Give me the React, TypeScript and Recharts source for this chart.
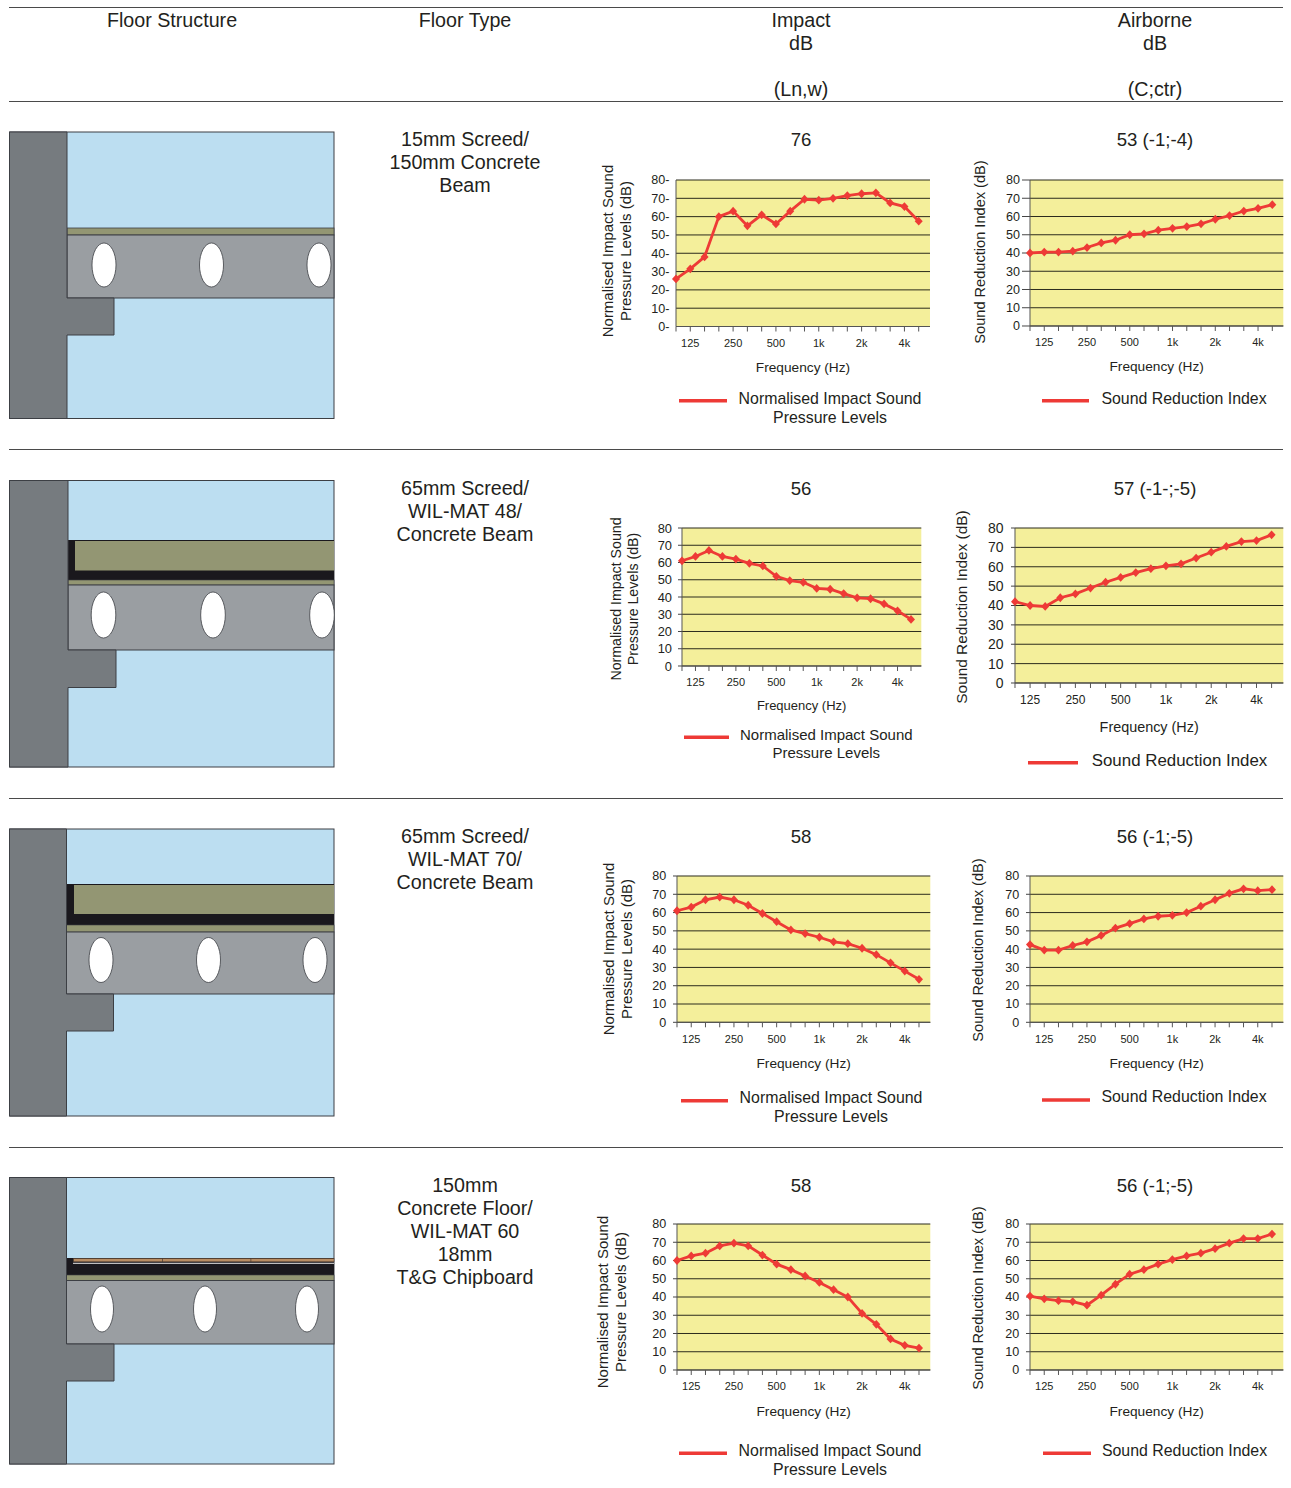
import React from 'react';
import { LineChart, Line, XAxis, YAxis, CartesianGrid, Label } from 'recharts';

const frequencies = ['100', '125', '160', '200', '250', '315', '400', '500', '630', '800', '1k', '1.25k', '1.6k', '2k', '2.5k', '3.15k', '4k', '5k'];
const labelledFrequencies = ['125', '250', '500', '1k', '2k', '4k'];
const dbTicks = [0, 10, 20, 30, 40, 50, 60, 70, 80];

const impactRow1 = [26, 31.5, 38, 60, 63, 55, 61, 56, 63, 69.5, 69, 70, 71.5, 72.5, 73, 67.5, 65.5, 57.5];
const airborneRow1 = [40, 40.5, 40.5, 41, 43, 45.5, 47, 50, 50.5, 52.5, 53.5, 54.5, 56, 58.5, 60.5, 63, 64.5, 66.5];
const impactRow2 = [61, 63.5, 67, 63.5, 62, 59.5, 58, 52, 49.5, 48.5, 45, 44.5, 42, 39.5, 39, 36, 32, 27];
const airborneRow2 = [42, 40, 39.5, 44, 46, 49, 52, 54.5, 57, 59, 60.5, 61.5, 64.5, 67.5, 70.5, 73, 73.5, 76.5];
const impactRow3 = [61, 63, 67, 68.5, 67, 64, 59.5, 55, 50.5, 48.5, 46.5, 44, 43, 40.5, 37, 32.5, 28, 23.5];
const airborneRow3 = [42.5, 39.5, 39.5, 42, 44, 47.5, 51.5, 54, 56.5, 58, 58.5, 60, 63.5, 67, 70.5, 73, 72, 72.5];
const impactRow4 = [60, 62.5, 64, 68, 69.5, 68, 63, 58, 55, 51.5, 48, 44, 40, 31, 25, 17, 13.5, 12];
const airborneRow4 = [40.5, 39, 38, 37.5, 35.5, 41, 47, 52.5, 55, 58, 60.5, 62.5, 64, 66.5, 69.5, 72, 72, 74.5];

const impactName = ['Normalised Impact Sound', 'Pressure Levels'];
const airborneName = ['Sound Reduction Index'];
const impactTitle = ['Normalised Impact Sound', 'Pressure Levels (dB)'];
const airborneTitle = ['Sound Reduction Index (dB)'];

const FONT = '"Liberation Sans", Arial, sans-serif';
const RED = '#ee3a36';
const TEXT = '#231f20';

interface ChartSpec {
  values: number[];
  L: number; R: number; T: number; B: number; lastX: number;
  yFont: number; xFont: number; tickSize: number; tickMargin: number; tickDash?: boolean;
  xTitleFont: number; xTitleDy: number;
  yTitle: string[]; yTitleX: number[]; yTitleY: number; yTitleFont: number;
  legend: string[]; lineX: [number, number]; lineY: number;
  legendCx: number; legendY: number[]; legendFont: number;
}

const charts: ChartSpec[] = [
  { values: impactRow1, L: 676, R: 930, T: 180, B: 326.5, lastX: 918.7, yFont: 12.6, xFont: 11, tickSize: 0, tickMargin: 6.5, tickDash: true, xTitleFont: 13.7, xTitleDy: 40.5,
    yTitle: impactTitle, yTitleX: [607, 625], yTitleY: 251, yTitleFont: 15,
    legend: impactName, lineX: [679, 727], lineY: 400.7, legendCx: 830, legendY: [398, 417], legendFont: 15.9 },
  { values: airborneRow1, L: 1030, R: 1283.3, T: 180, B: 326, lastX: 1272.3, yFont: 12.6, xFont: 11, tickSize: 8, tickMargin: 2, xTitleFont: 13.7, xTitleDy: 40.7,
    yTitle: airborneTitle, yTitleX: [980], yTitleY: 252, yTitleFont: 14.6,
    legend: airborneName, lineX: [1042, 1089], lineY: 400.7, legendCx: 1184, legendY: [398], legendFont: 15.9 },
  { values: impactRow2, L: 681.7, R: 921, T: 528, B: 666, lastX: 910.7, yFont: 12.9, xFont: 11, tickSize: 4, tickMargin: 6, xTitleFont: 13, xTitleDy: 39,
    yTitle: impactTitle, yTitleX: [616, 633], yTitleY: 599, yTitleFont: 14.2,
    legend: impactName, lineX: [684, 729], lineY: 737.3, legendCx: 826.3, legendY: [734, 752.7], legendFont: 15 },
  { values: airborneRow2, L: 1014.7, R: 1283, T: 528.3, B: 683.3, lastX: 1271.3, yFont: 14, xFont: 12, tickSize: 4, tickMargin: 7.4, xTitleFont: 14.4, xTitleDy: 44.4,
    yTitle: airborneTitle, yTitleX: [961], yTitleY: 607, yTitleFont: 15.4,
    legend: airborneName, lineX: [1028, 1078], lineY: 762.7, legendCx: 1179.5, legendY: [760], legendFont: 16.9 },
  { values: impactRow3, L: 676.7, R: 930, T: 876, B: 1022.3, lastX: 918.7, yFont: 12.6, xFont: 11, tickSize: 4, tickMargin: 6.7, xTitleFont: 13.7, xTitleDy: 41,
    yTitle: impactTitle, yTitleX: [608, 626], yTitleY: 949, yTitleFont: 15,
    legend: impactName, lineX: [681, 728], lineY: 1100.7, legendCx: 831, legendY: [1097.3, 1116], legendFont: 15.9 },
  { values: airborneRow3, L: 1030, R: 1283.3, T: 875.7, B: 1022, lastX: 1272, yFont: 12.6, xFont: 11, tickSize: 4, tickMargin: 6.7, xTitleFont: 13.7, xTitleDy: 41,
    yTitle: airborneTitle, yTitleX: [978], yTitleY: 950, yTitleFont: 14.6,
    legend: airborneName, lineX: [1042, 1090], lineY: 1100, legendCx: 1184, legendY: [1096.7], legendFont: 15.9 },
  { values: impactRow4, L: 676.7, R: 930, T: 1224.3, B: 1370.3, lastX: 918.7, yFont: 12.6, xFont: 11, tickSize: 4, tickMargin: 6.7, xTitleFont: 13.7, xTitleDy: 41.7,
    yTitle: impactTitle, yTitleX: [602, 620.5], yTitleY: 1302, yTitleFont: 15,
    legend: impactName, lineX: [679, 727], lineY: 1453.3, legendCx: 830, legendY: [1450, 1469.3], legendFont: 15.9 },
  { values: airborneRow4, L: 1030, R: 1283.3, T: 1224.3, B: 1370.3, lastX: 1272, yFont: 12.6, xFont: 11, tickSize: 4, tickMargin: 6.7, xTitleFont: 13.7, xTitleDy: 41.7,
    yTitle: airborneTitle, yTitleX: [978], yTitleY: 1298, yTitleFont: 14.6,
    legend: airborneName, lineX: [1043, 1091], lineY: 1453.3, legendCx: 1184.5, legendY: [1450], legendFont: 15.9 },
];

const Marker = (props: any) => {
  const { cx, cy, index } = props;
  return <path key={index} d={`M${cx} ${cy - 4.4}L${cx + 4} ${cy}L${cx} ${cy + 4.4}L${cx - 4} ${cy}Z`} fill={RED} stroke="none" />;
};

const AXIS_W = 40;
const AXIS_H = 62;
const TOP_PAD = 12;

const SoundChart = ({ spec }: { spec: ChartSpec }) => {
  const data = frequencies.map((freq, i) => ({ freq, value: spec.values[i] }));
  const plotW = spec.R - spec.L;
  const plotH = spec.B - spec.T;
  return (
    <div style={{ position: 'absolute', left: spec.L - AXIS_W, top: spec.T - TOP_PAD }}>
      <LineChart width={plotW + AXIS_W + 2} height={plotH + AXIS_H + TOP_PAD} data={data} margin={{ top: TOP_PAD, right: 2, bottom: 0, left: 0 }}>
        <CartesianGrid vertical={false} stroke="#2b2a1c" strokeWidth={1} fill="#f4ef9b" syncWithTicks />
        <XAxis
          dataKey="freq"
          scale="point"
          height={AXIS_H}
          padding={{ left: 0, right: spec.R - spec.lastX }}
          interval={0}
          tickSize={5}
          tickMargin={7.5}
          stroke="#555"
          tick={{ fontSize: spec.xFont, fontFamily: FONT, fill: TEXT }}
          tickFormatter={(f: string) => (labelledFrequencies.includes(f) ? f : '')}
        >
          <Label
            value="Frequency (Hz)"
            position="insideBottom"
            offset={AXIS_H - spec.xTitleDy - spec.xTitleFont * 0.35}
            style={{ fontSize: spec.xTitleFont, fontFamily: FONT, fill: TEXT }}
          />
        </XAxis>
        <YAxis
          width={AXIS_W}
          domain={[0, 80]}
          ticks={dbTicks}
          interval={0}
          tickLine={spec.tickDash ? false : { stroke: '#444' }}
          tickSize={spec.tickSize}
          tickMargin={spec.tickMargin}
          stroke="#555"
          tick={{ fontSize: spec.yFont, fontFamily: FONT, fill: TEXT }}
          tickFormatter={(v: number) => (spec.tickDash ? `${v}-` : `${v}`)}
        />
        <Line
          dataKey="value"
          name={spec.legend.join(' ')}
          type="linear"
          stroke={RED}
          strokeWidth={2.8}
          dot={Marker}
          activeDot={false}
          isAnimationActive={false}
        />
      </LineChart>
    </div>
  );
};

interface FloorSpec {
  top: number; bottom: number; wallX: number; beamTop: number; beamBottom: number;
  nibX: number; nibBottom: number; holes: number[]; holeY: number; rx: number; ry: number;
}

const OLIVE = '#939673';
const BLACK = '#1a181d';
const BEAM = '#9a9ea2';
const WALL = '#767b7f';
const SKY = '#bcdef1';
const EDGE = '#3c3f44';

const Holes = ({ f }: { f: FloorSpec }) => (
  <>
    {f.holes.map((cx) => (
      <ellipse key={cx} cx={cx} cy={f.holeY} rx={f.rx} ry={f.ry} fill="#fff" stroke={EDGE} strokeWidth={0.8} />
    ))}
  </>
);

const FloorBase = ({ f, children }: { f: FloorSpec; children?: React.ReactNode }) => (
  <g>
    <rect x={9.5} y={f.top} width={324.5} height={f.bottom - f.top} fill={SKY} stroke={EDGE} strokeWidth={1} />
    {children}
    <rect x={f.wallX} y={f.beamTop} width={334 - f.wallX} height={f.beamBottom - f.beamTop} fill={BEAM} stroke={EDGE} strokeWidth={1} />
    <path
      d={`M9.5 ${f.top}H${f.wallX}V${f.beamBottom}H${f.nibX}V${f.nibBottom}H${f.wallX}V${f.bottom}H9.5Z`}
      fill={WALL}
      stroke={EDGE}
      strokeWidth={1}
    />
    <Holes f={f} />
  </g>
);

const floor1: FloorSpec = { top: 132, bottom: 418.5, wallX: 67, beamTop: 235, beamBottom: 298, nibX: 114, nibBottom: 335, holes: [104, 211.5, 319], holeY: 265, rx: 12, ry: 22 };
const floor2: FloorSpec = { top: 480.5, bottom: 767, wallX: 68, beamTop: 585, beamBottom: 650, nibX: 116, nibBottom: 687.5, holes: [103.5, 213, 322], holeY: 615, rx: 12.3, ry: 23 };
const floor3: FloorSpec = { top: 829, bottom: 1116, wallX: 66.5, beamTop: 932, beamBottom: 994, nibX: 113.5, nibBottom: 1031, holes: [101, 208.5, 315], holeY: 960, rx: 12, ry: 22.5 };
const floor4: FloorSpec = { top: 1177.5, bottom: 1464, wallX: 66.5, beamTop: 1280.5, beamBottom: 1344, nibX: 114, nibBottom: 1381, holes: [102, 205, 307], holeY: 1309, rx: 11.5, ry: 23 };

const boardStarts = [73.5, 162.5, 251];

const Drawings = () => (
  <>
    <FloorBase f={floor1}>
      <rect x={67} y={228} width={267} height={7} fill={OLIVE} stroke={EDGE} strokeWidth={0.8} />
    </FloorBase>
    <FloorBase f={floor2}>
      <rect x={68} y={540} width={266} height={40} fill={BLACK} />
      <rect x={75} y={541} width={259} height={29.5} fill={OLIVE} />
      <rect x={68} y={580} width={266} height={5} fill={OLIVE} stroke={EDGE} strokeWidth={0.6} />
    </FloorBase>
    <FloorBase f={floor3}>
      <rect x={66.5} y={884} width={267.5} height={41} fill={BLACK} />
      <rect x={74} y={885} width={260} height={29} fill={OLIVE} />
      <rect x={66.5} y={925} width={267.5} height={7} fill={OLIVE} stroke={EDGE} strokeWidth={0.6} />
    </FloorBase>
    <FloorBase f={floor4}>
      <rect x={66.5} y={1258} width={267.5} height={17} fill={BLACK} />
      {boardStarts.map((x, i) => (
        <rect key={x} x={x} y={1258.6} width={(boardStarts[i + 1] ?? 334) - x} height={3.2} fill="#b88c62" stroke="#4a3a30" strokeWidth={0.5} />
      ))}
      <rect x={73} y={1262.8} width={261} height={1} fill="#e8e8e8" />
      <rect x={66.5} y={1275} width={267.5} height={5.5} fill={OLIVE} stroke={EDGE} strokeWidth={0.6} />
    </FloorBase>
  </>
);

const ruleYs = [7.5, 101.5, 449.5, 798.5, 1147.5];

const Centered = ({ x, y, size = 19.7, children }: { x: number; y: number; size?: number; children: React.ReactNode }) => (
  <text x={x} y={y} textAnchor="middle" dominantBaseline="central" fontSize={size} fontFamily={FONT} fill={TEXT}>
    {children}
  </text>
);

const headers: [number, number, string][] = [
  [172, 20, 'Floor Structure'], [465, 20, 'Floor Type'],
  [801, 20, 'Impact'], [801, 43, 'dB'], [801, 89, '(Ln,w)'],
  [1155, 20, 'Airborne'], [1155, 43, 'dB'], [1155, 89, '(C;ctr)'],
];

const rows = [
  { y: 139, floorType: ['15mm Screed/', '150mm Concrete', 'Beam'], impact: '76', airborne: '53 (-1;-4)' },
  { y: 488, floorType: ['65mm Screed/', 'WIL-MAT 48/', 'Concrete Beam'], impact: '56', airborne: '57 (-1-;-5)' },
  { y: 836, floorType: ['65mm Screed/', 'WIL-MAT 70/', 'Concrete Beam'], impact: '58', airborne: '56 (-1;-5)' },
  { y: 1185, floorType: ['150mm', 'Concrete Floor/', 'WIL-MAT 60', '18mm', 'T&G Chipboard'], impact: '58', airborne: '56 (-1;-5)' },
];

const App = () => (
  <div style={{ position: 'absolute', left: 0, top: 0, width: 1291, height: 1488, background: '#fff', overflow: 'hidden' }}>
    <svg width={1291} height={1488} style={{ position: 'absolute', left: 0, top: 0 }}>
      {ruleYs.map((y) => (
        <line key={y} x1={9} x2={1283} y1={y} y2={y} stroke="#4a4a4a" strokeWidth={1} />
      ))}
      {headers.map(([x, y, t]) => (
        <Centered key={`${x}-${y}`} x={x} y={y}>{t}</Centered>
      ))}
      <Drawings />
      {rows.map((r) => (
        <g key={r.y}>
          {r.floorType.map((t, i) => (
            <Centered key={i} x={465} y={r.y + i * 23}>{t}</Centered>
          ))}
          <Centered x={801} y={r.y} size={18.6}>{r.impact}</Centered>
          <Centered x={1155} y={r.y} size={18.6}>{r.airborne}</Centered>
        </g>
      ))}
      {charts.map((c, n) => (
        <g key={n}>
          {c.yTitle.map((t, i) => (
            <text
              key={i}
              transform={`translate(${c.yTitleX[i]} ${c.yTitleY}) rotate(-90)`}
              textAnchor="middle"
              dominantBaseline="central"
              fontSize={c.yTitleFont}
              fontFamily={FONT}
              fill={TEXT}
            >
              {t}
            </text>
          ))}
          <line x1={c.lineX[0]} x2={c.lineX[1]} y1={c.lineY} y2={c.lineY} stroke={RED} strokeWidth={3.4} />
          {c.legend.map((t, i) => (
            <Centered key={i} x={c.legendCx} y={c.legendY[i]} size={c.legendFont}>{t}</Centered>
          ))}
        </g>
      ))}
    </svg>
    {charts.map((c, n) => (
      <SoundChart key={n} spec={c} />
    ))}
  </div>
);

export default App;
